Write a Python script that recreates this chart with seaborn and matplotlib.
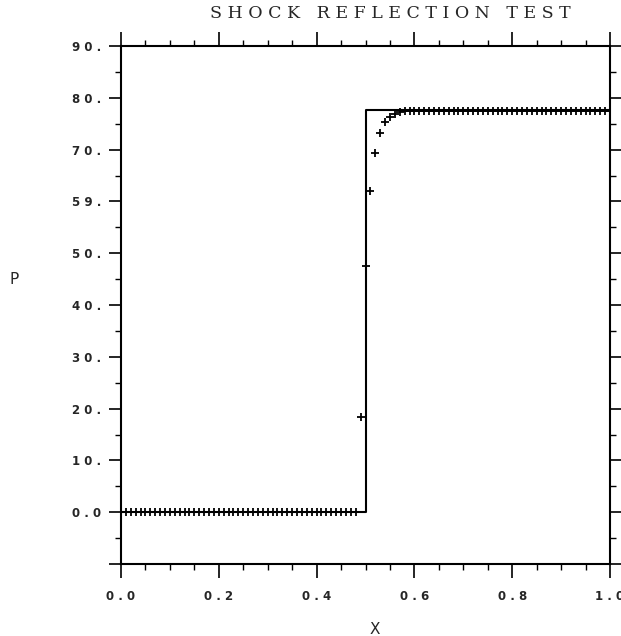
import numpy as np
import pandas as pd
import matplotlib
matplotlib.use("Agg")
import matplotlib.pyplot as plt
from matplotlib.ticker import MultipleLocator, FixedLocator
import seaborn as sns

# Exact solution: pressure jump at the reflected shock
exact_x = [0.0, 0.5, 0.5, 1.0]
exact_p = [0.0, 0.0, 77.6, 77.6]

# Computed pressure at the grid points
num_x = [round(0.01 * i, 2) for i in range(101)]
num_p = ([0.0] * 49
         + [18.3, 47.5, 62.1, 69.4, 73.3, 75.4, 76.3, 76.9, 77.2, 77.4]
         + [77.5] * 42)

y_ticks = [0, 10, 20, 30, 40, 50, 60, 70, 80, 90]
y_labels = ["0 . 0", "1 0 .", "2 0 .", "3 0 .", "4 0 .", "5 0 .",
            "5 9 .", "7 0 .", "8 0 .", "9 0 ."]
x_ticks = [0.0, 0.2, 0.4, 0.6, 0.8, 1.0]
x_labels = ["0 . 0", "0 . 2", "0 . 4", "0 . 6", "0 . 8", "1 . 0"]

sns.set_theme(style="ticks")
plt.rcParams["font.family"] = ["DejaVu Sans"]

W, H = 621, 636
fig = plt.figure(figsize=(W / 100, H / 100), dpi=100)
ax = fig.add_axes([121 / W, 1 - 564 / H, (610 - 121) / W, (564 - 46) / H])

exact = pd.DataFrame({"x": exact_x, "p": exact_p})
num = pd.DataFrame({"x": num_x, "p": num_p})

sns.lineplot(data=exact, x="x", y="p", sort=False, estimator=None,
             errorbar=None, color="black", linewidth=1.5, ax=ax)
sns.scatterplot(data=num, x="x", y="p", marker="+", color="black",
                s=36, linewidth=1.3, ax=ax, zorder=3)

ax.set_xlim(0, 1.0)
ax.set_ylim(-10, 90)

for s in ax.spines.values():
    s.set_linewidth(1.5)
    s.set_color("black")

ax.yaxis.set_major_locator(FixedLocator(y_ticks + [-10]))
ax.set_yticklabels(y_labels + [""])
ax.yaxis.set_minor_locator(MultipleLocator(5))
ax.xaxis.set_major_locator(FixedLocator(x_ticks))
ax.set_xticklabels(x_labels)
ax.xaxis.set_minor_locator(MultipleLocator(0.05))

ax.tick_params(axis="both", which="both", direction="out", color="black",
               top=True, right=True, labeltop=False, labelright=False)
ax.tick_params(axis="y", which="major", length=9, width=1.2, pad=5,
               labelsize=8.5)
ax.tick_params(axis="y", which="minor", length=4, width=1.0)
ax.tick_params(axis="x", which="major", length=10, width=1.2, pad=9,
               labelsize=8.5)
ax.tick_params(axis="x", which="minor", length=4, width=1.0)
for lab in ax.get_xticklabels() + ax.get_yticklabels():
    lab.set_fontweight("bold")

ax.set_xlabel("")
ax.set_ylabel("")

fig.text(390 / W, 1 - 14 / H, "S H O C K   R E F L E C T I O N   T E S T",
         ha="center", va="center", fontsize=12.5, family="DejaVu Serif")
fig.text(375 / W, 1 - 630 / H, "X", ha="center", va="center", fontsize=11)
fig.text(14 / W, 1 - 280 / H, "P", ha="center", va="center", fontsize=11)

fig.savefig("out.png", dpi=100, facecolor="white")
